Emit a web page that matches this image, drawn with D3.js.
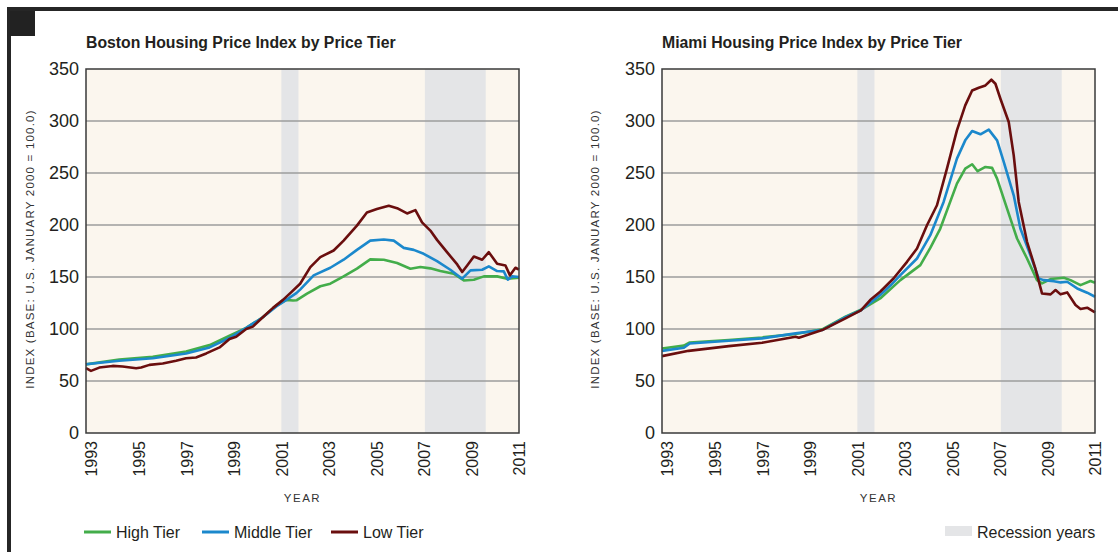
<!DOCTYPE html>
<html>
<head>
<meta charset="utf-8">
<script src="https://cdn.jsdelivr.net/npm/d3@7"></script>
<style>
  body { margin: 0; background: #fff; }
  svg { display: block; font-family: "Liberation Sans", Arial, Helvetica, sans-serif; }
</style>
</head>
<body>
<svg id="chart" width="1118" height="552"></svg>
<script>
// values: [year, index]
var bostonHigh = [[1992.78,66],[1994.18,70.6],[1995.59,73.2],[1996.99,78.4],[1997.98,84.5],[1998.82,93.5],[1999.52,101],[2000.22,111.3],[2000.79,122.6],[2001.21,128],[2001.49,127.4],[2001.65,127.7],[2002.08,134.1],[2002.64,141.1],[2003.06,143.6],[2003.62,150.6],[2004.18,158],[2004.74,166.9],[2005.31,166.6],[2005.87,163.4],[2006.43,158],[2006.85,159.6],[2007.27,158.3],[2007.69,155.7],[2008.25,153.2],[2008.68,146.7],[2009.1,147.4],[2009.52,150.6],[2010.08,150.6],[2010.5,148.4],[2011,149.4]];
var bostonMiddle = [[1992.78,66.1],[1994.18,69.4],[1995.59,71.9],[1996.99,76.5],[1997.98,82.3],[1998.82,91.3],[1999.52,101],[2000.22,111.3],[2000.79,121.6],[2001.21,128],[2001.63,134.5],[2001.79,137.9],[2002.36,151.6],[2003.06,158.9],[2003.62,166.6],[2004.18,176.1],[2004.74,185],[2005.31,186],[2005.73,185],[2006.15,178],[2006.57,176.1],[2006.99,172.3],[2007.55,165.3],[2008.11,157],[2008.61,148.4],[2008.96,156.4],[2009.45,157],[2009.73,160.2],[2010.08,155.7],[2010.36,155.4],[2010.53,147.4],[2010.71,150.6],[2011,150]];
var bostonLow = [[1992.78,62.3],[1992.99,59.7],[1993.34,62.9],[1993.9,64.5],[1994.32,63.9],[1994.89,62.3],[1995.1,62.9],[1995.45,65.5],[1996.01,66.8],[1996.57,69.4],[1996.99,71.9],[1997.41,72.6],[1997.84,76.5],[1998.4,82.3],[1998.82,90.3],[1999.1,92.6],[1999.52,100],[1999.8,102.3],[2000.22,111.3],[2000.65,120.3],[2001.07,128],[2001.42,135.5],[2001.79,143.5],[2002.22,159.5],[2002.64,169.1],[2003.2,175.5],[2003.62,185],[2004.18,199.4],[2004.6,212.1],[2005.02,215.3],[2005.52,218.5],[2005.87,216.2],[2006.29,211.1],[2006.64,214.3],[2006.92,202.5],[2007.27,194.6],[2007.55,185.7],[2007.97,173.9],[2008.4,162.1],[2008.61,154.8],[2008.82,161.1],[2009.1,169.7],[2009.45,166.6],[2009.73,173.9],[2010.08,162.7],[2010.43,161.1],[2010.62,151.6],[2010.85,158.9],[2011,157]];

var miamiHigh = [[1992.78,81.3],[1993.7,84],[1993.95,87],[1995.59,89.4],[1996.99,91.9],[1998.4,95.2],[1999.52,99.7],[2000.5,111.9],[2001.15,118.5],[2001.96,129.4],[2002.81,147],[2003.65,161.4],[2004.07,178],[2004.49,196.6],[2005.19,239.8],[2005.54,254.2],[2005.83,258.4],[2006.06,251.7],[2006.39,255.8],[2006.67,254.9],[2006.88,244.6],[2007.3,215.8],[2007.72,187],[2008.14,167.8],[2008.56,147],[2008.77,143.8],[2009.13,148],[2009.69,149.3],[2009.97,147],[2010.39,142.2],[2010.81,146.1],[2011,144.5]];
var miamiMiddle = [[1992.78,79],[1993.7,82],[1993.95,86],[1995.59,88.7],[1996.99,91],[1998.4,95.8],[1999.52,99],[2000.5,111.3],[2001.15,118],[2001.96,132.6],[2002.4,142],[2002.81,151.8],[2003.51,167.8],[2004.07,190.2],[2004.63,222.2],[2005.19,263.8],[2005.54,281.4],[2005.83,290.4],[2006.18,287.2],[2006.53,291.7],[2006.88,281.4],[2007.16,260.6],[2007.58,228.6],[2007.86,196.6],[2008.28,171],[2008.63,148.6],[2008.84,147],[2009.27,146],[2009.55,144.8],[2009.83,145.4],[2010.25,139],[2010.67,134.9],[2011,131]];
var miamiLow = [[1992.78,73.9],[1993.9,79],[1995.59,83.5],[1996.99,86.8],[1998.4,92.6],[1998.54,91.6],[1999.52,99],[2000.5,110.3],[2001.15,118],[2001.54,127.8],[2001.96,135.8],[2002.52,148.6],[2003.09,164.6],[2003.51,177.4],[2003.93,199.8],[2004.35,219],[2004.77,254.2],[2005.19,291],[2005.54,315],[2005.83,329.4],[2006.11,332],[2006.39,334.2],[2006.64,339.7],[2006.81,335.8],[2007.02,321.4],[2007.37,299],[2007.58,267],[2007.79,222.2],[2008.14,183.8],[2008.49,158.2],[2008.77,134.2],[2009.13,133.3],[2009.34,137.4],[2009.55,133.3],[2009.83,135.2],[2010.18,123],[2010.39,119.2],[2010.67,120.5],[2011,116]];

var recessions = [[2001.0, 2001.72], [2007.04, 2009.6]];
var yearTicks = [1993, 1995, 1997, 1999, 2001, 2003, 2005, 2007, 2009, 2011];
var indexTicks = [0, 50, 100, 150, 200, 250, 300, 350];
var tierNames = ["High Tier", "Middle Tier", "Low Tier"];
var tierColors = ["#43ad4a", "#1b88cc", "#6a0e0e"];

var svg = d3.select("#chart");

// page frame bits
svg.append("rect").attr("x", 7).attr("y", 7).attr("width", 1111).attr("height", 4).attr("fill", "#262626");
svg.append("rect").attr("x", 7).attr("y", 7).attr("width", 4).attr("height", 545).attr("fill", "#262626");
svg.append("rect").attr("x", 10).attr("y", 11).attr("width", 25).attr("height", 25).attr("fill", "#222");

var plotH = 364, plotW = 433, plotTop = 69;

function drawPanel(left, title, series, yTitleX) {
    var xs = d3.scaleLinear().domain([1992.78, 2011]).range([left, left + plotW]);
    var ys = d3.scaleLinear().domain([0, 350]).range([plotTop + plotH, plotTop]);
    var g = svg.append("g");

    g.append("rect")
        .attr("x", left).attr("y", plotTop)
        .attr("width", plotW).attr("height", plotH)
        .attr("fill", "#fbf6ee");

    g.selectAll(".rec")
        .data(recessions)
        .enter().append("rect")
        .attr("x", d => xs(d[0]))
        .attr("y", plotTop)
        .attr("width", d => xs(d[1]) - xs(d[0]))
        .attr("height", plotH)
        .attr("fill", "#e4e5e7");

    // gridlines
    g.selectAll(".grid")
        .data(indexTicks.filter(v => v > 0 && v < 350))
        .enter().append("line")
        .attr("x1", left).attr("x2", left + plotW)
        .attr("y1", d => ys(d)).attr("y2", d => ys(d))
        .attr("stroke", "#9c9c9c").attr("stroke-width", 1.5);

    var line = d3.line().x(d => xs(d[0])).y(d => ys(d[1]));
    series.forEach(function(s, i) {
        g.append("path")
            .datum(s)
            .attr("d", line)
            .attr("fill", "none")
            .attr("stroke", tierColors[i])
            .attr("stroke-width", 2.6)
            .attr("stroke-linejoin", "round");
    });

    g.append("rect")
        .attr("x", left).attr("y", plotTop)
        .attr("width", plotW).attr("height", plotH)
        .attr("fill", "none").attr("stroke", "#3a3a3a").attr("stroke-width", 1.5);

    var yAxis = g.append("g")
        .attr("transform", "translate(" + left + ",0)")
        .call(d3.axisLeft(ys).tickValues(indexTicks).tickSize(0).tickPadding(7));
    yAxis.select(".domain").remove();
    yAxis.selectAll("text").attr("font-size", 18).attr("fill", "#231f20")
        .attr("font-family", "Liberation Sans, Arial, sans-serif");

    var xAxis = g.append("g")
        .attr("transform", "translate(0," + (plotTop + plotH) + ")")
        .call(d3.axisBottom(xs).tickValues(yearTicks).tickSize(0).tickFormat(d3.format("d")));
    xAxis.select(".domain").remove();
    xAxis.selectAll("text")
        .attr("font-size", 16).attr("fill", "#231f20")
        .attr("font-family", "Liberation Sans, Arial, sans-serif")
        .attr("text-anchor", "end")
        .attr("transform", "rotate(-90)")
        .attr("x", -8).attr("y", 0).attr("dy", "0.36em");

    svg.append("text")
        .attr("x", left).attr("y", 48)
        .attr("font-size", 15.8).attr("font-weight", "bold").attr("fill", "#231f20")
        .text(title);

    svg.append("text")
        .attr("x", left + plotW / 2).attr("y", 502)
        .attr("text-anchor", "middle")
        .attr("font-size", 11.5).attr("letter-spacing", "1.5px").attr("fill", "#333")
        .text("YEAR");

    svg.append("text")
        .attr("transform", "translate(" + yTitleX + "," + 249 + ") rotate(-90)")
        .attr("text-anchor", "middle")
        .attr("dy", "0.35em")
        .attr("font-size", 11.5).attr("letter-spacing", "1.2px").attr("fill", "#333")
        .text("INDEX (BASE: U.S. JANUARY 2000 = 100.0)");
}

drawPanel(86, "Boston Housing Price Index by Price Tier", [bostonHigh, bostonMiddle, bostonLow], 30);
drawPanel(662, "Miami Housing Price Index by Price Tier", [miamiHigh, miamiMiddle, miamiLow], 595);

// legend
var legendX = [84, 202, 331];
var legend = svg.selectAll(".leg")
    .data(tierNames)
    .enter().append("g")
    .attr("transform", (d, i) => "translate(" + legendX[i] + ",532)");
legend.append("line")
    .attr("x1", 0).attr("x2", 27)
    .attr("stroke", (d, i) => tierColors[i]).attr("stroke-width", 3);
legend.append("text")
    .attr("x", 32).attr("y", 6)
    .attr("font-size", 16).attr("fill", "#231f20")
    .text(d => d);

svg.append("rect").attr("x", 945).attr("y", 526).attr("width", 27).attr("height", 10).attr("fill", "#e4e5e7");
svg.append("text").attr("x", 977).attr("y", 538)
    .attr("font-size", 16).attr("fill", "#231f20")
    .text("Recession years");
</script>
</body>
</html>
